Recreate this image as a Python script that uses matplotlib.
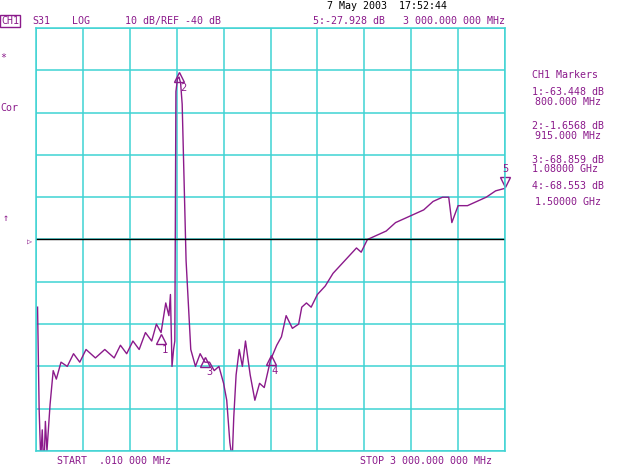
import numpy as np
import matplotlib
matplotlib.use("Agg")
from matplotlib import pyplot as plt

# trace: frequency (MHz) and S31 (dB)
freq = [10, 20, 30, 40, 50, 60, 70, 90, 110, 130, 160, 200, 240, 280, 320, 380, 440,
        500, 540, 580, 620, 660, 700, 740, 770, 800, 830, 850, 860, 870, 880, 888,
        895, 905, 915, 925, 935, 960, 990, 1020, 1050, 1080, 1110, 1140, 1170, 1200,
        1220, 1240, 1255, 1265, 1280, 1300, 1320, 1340, 1370, 1400, 1430, 1460, 1500,
        1540, 1570, 1600, 1640, 1680, 1700, 1730, 1760, 1800, 1850, 1900, 1950, 2000,
        2050, 2080, 2120, 2180, 2240, 2300, 2360, 2420, 2480, 2540, 2600, 2640, 2660,
        2680, 2700, 2760, 2820, 2880, 2940, 3000]
s31 = [-56, -80, -92, -85, -95, -83, -90, -79, -71, -73, -69, -70, -67, -69, -66, -68, -66,
       -68, -65, -67, -64, -66, -62, -64, -60, -62, -55, -58, -53, -70, -66, -64,
       -5, -2, -1.6, -3, -8, -45, -66, -70, -67, -69, -69, -71, -70, -74,
       -78, -88, -92, -82, -72, -66, -70, -64, -72, -78, -74, -75, -68.5,
       -65, -63, -58, -61, -60, -56, -55, -56, -53, -51, -48, -46, -44,
       -42, -43, -40, -39, -38, -36, -35, -34, -33, -31, -30, -30, -36,
       -34, -32, -32, -31, -30, -28.5, -27.9]

mk_f = [800, 915, 1080, 1500, 3000]
mk_db = [-63.448, -1.6568, -68.859, -68.553, -27.928]

purple = "#8b1a8b"
cyan = "#3fd3d3"
mono = "DejaVu Sans Mono"

fig = plt.figure(figsize=(6.4, 4.65), dpi=100)
ax = fig.add_axes([36 / 640, 14 / 465, 469 / 640, 423 / 465])
ax.plot(freq, s31, color=purple, lw=1.0)
ax.axhline(-40, color="black", lw=1.0)
ax.set_xlim(0, 3000)
ax.set_ylim(-90, 10)
ax.set_xticks(np.linspace(0, 3000, 11))
ax.set_yticks(np.arange(-90, 11, 10))
ax.grid(True, color=cyan, lw=1.1)
ax.tick_params(length=0, labelbottom=False, labelleft=False)
for s in ax.spines.values():
    s.set_color(cyan)
    s.set_linewidth(1.1)

# marker triangles
for i, (f, d) in enumerate(zip(mk_f, mk_db), start=1):
    if i < 5:
        ax.plot(f, d, marker="^", ms=7, mfc="none", mec=purple, clip_on=False)
        ax.annotate(str(i), (f, d), xytext=(3, -10), textcoords="offset points",
                    color=purple, family=mono, fontsize=7.5, ha="center")
    else:
        ax.plot(f, d + 1.5, marker="v", ms=7, mfc="none", mec=purple, clip_on=False)
        ax.annotate(str(i), (f, d), xytext=(0, 12), textcoords="offset points",
                    color=purple, family=mono, fontsize=7.5, ha="center")


def txt(x, y, s, color=purple, size=7.2, **kw):
    fig.text(x / 640, 1 - y / 465, s, color=color, family=mono, fontsize=size,
             va="center", **kw)


txt(327, 6, "7 May 2003  17:52:44", color="black")
txt(1, 21, "CH1", bbox=dict(boxstyle="square,pad=0.1", fc="none", ec=purple, lw=1))
txt(32, 21, "S31")
txt(72, 21, "LOG")
txt(125, 21, "10 dB/REF -40 dB")
txt(313, 21, "5:-27.928 dB   3 000.000 000 MHz")
txt(0, 58, "*")
txt(0, 108, "Cor")
txt(3, 218, "\u2191")
txt(27, 241, "\u25b7", size=6)
txt(532, 75, "CH1 Markers")
txt(532, 92, "1:-63.448 dB")
txt(535, 102, "800.000 MHz")
txt(532, 126, "2:-1.6568 dB")
txt(535, 136, "915.000 MHz")
txt(532, 160, "3:-68.859 dB")
txt(532, 169, "1.08000 GHz")
txt(532, 186, "4:-68.553 dB")
txt(535, 202, "1.50000 GHz")
txt(57, 461, "START  .010 000 MHz")
txt(360, 461, "STOP 3 000.000 000 MHz")

fig.savefig("out.png", dpi=100, facecolor="white")
